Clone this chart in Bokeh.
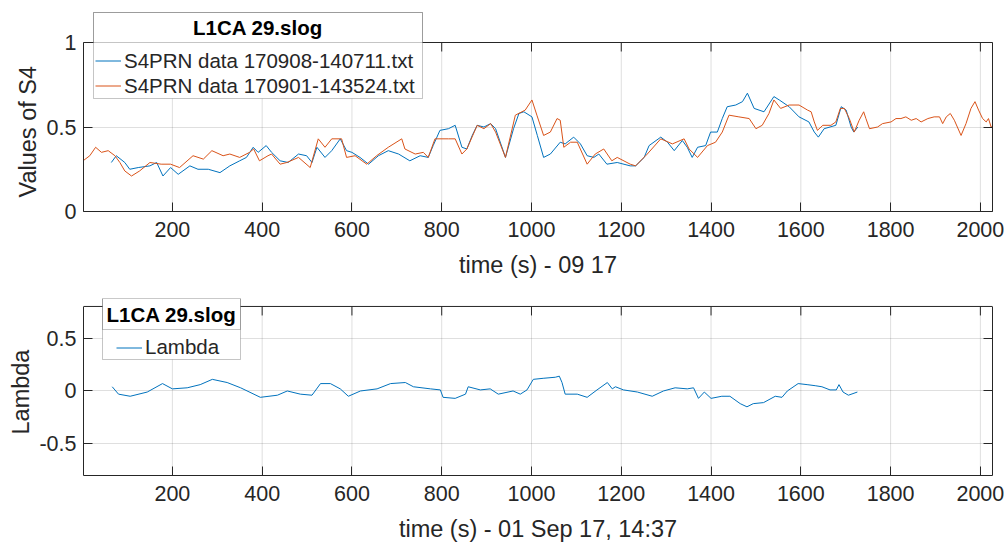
import math
from bokeh.plotting import figure
from bokeh.models import (Range1d, LinearAxis, FixedTicker, Legend, LegendItem,
                          CustomJSTickFormatter, Span, BoxAnnotation, Label, Title)
from bokeh.layouts import column
from bokeh.embed import file_html
from bokeh.resources import INLINE

FONT = "Liberation Sans"
INK = "#262626"
EDGE = "#404040"
BLUE = "#0072BD"
ORANGE = "#D95319"

# S4 index, pass of 08 Sep 2017 (170908-140711)
s4_0908_t = [64, 75, 94, 105, 124, 150, 165, 179, 196, 213, 239, 257, 280, 306, 328,
             350, 365, 380, 391, 409, 421, 440, 458, 481, 499, 511, 522, 540, 555, 574,
             588, 600, 618, 637, 659, 681, 704, 729, 752, 770, 781, 796, 815, 830, 845,
             856, 868, 879, 894, 909, 920, 942, 960, 972, 983, 1001, 1013, 1027, 1042,
             1064, 1075, 1094, 1109, 1124, 1139, 1150, 1168, 1191, 1220, 1232, 1251,
             1262, 1288, 1303, 1318, 1336, 1347, 1358, 1370, 1388, 1399, 1414, 1425,
             1436, 1455, 1470, 1481, 1496, 1518, 1540, 1552, 1574, 1596, 1618, 1630,
             1639, 1652, 1678, 1690, 1701, 1712, 1718, 1727]
s4_0908 = [0.29, 0.33, 0.29, 0.25, 0.26, 0.27, 0.29, 0.21, 0.26, 0.22, 0.27, 0.25, 0.25,
           0.23, 0.27, 0.30, 0.32, 0.38, 0.35, 0.39, 0.35, 0.30, 0.29, 0.34, 0.33, 0.29,
           0.38, 0.32, 0.36, 0.43, 0.36, 0.35, 0.32, 0.28, 0.33, 0.36, 0.34, 0.30, 0.33,
           0.32, 0.39, 0.48, 0.49, 0.51, 0.38, 0.37, 0.45, 0.51, 0.50, 0.52, 0.49, 0.32,
           0.49, 0.58, 0.59, 0.56, 0.45, 0.32, 0.34, 0.41, 0.40, 0.44, 0.40, 0.33, 0.32,
           0.34, 0.28, 0.29, 0.27, 0.27, 0.32, 0.39, 0.44, 0.41, 0.36, 0.42, 0.38, 0.32,
           0.38, 0.39, 0.47, 0.47, 0.55, 0.62, 0.63, 0.65, 0.70, 0.61, 0.59, 0.68, 0.66,
           0.62, 0.56, 0.53, 0.47, 0.44, 0.49, 0.51, 0.62, 0.60, 0.50, 0.47, 0.50]

# S4 index, pass of 01 Sep 2017 (170901-143524)
s4_0901_t = [1, 16, 29, 42, 57, 72, 83, 94, 109, 127, 150, 175, 196, 216, 246, 269, 288,
             313, 328, 350, 372, 381, 394, 413, 421, 440, 455, 481, 507, 525, 540, 555,
             577, 588, 607, 633, 655, 681, 711, 718, 741, 759, 770, 785, 815, 830, 845,
             856, 879, 894, 909, 920, 942, 964, 986, 1001, 1012, 1027, 1042, 1057, 1064,
             1072, 1087, 1102, 1124, 1142, 1161, 1179, 1191, 1220, 1232, 1258, 1288,
             1314, 1340, 1351, 1370, 1392, 1410, 1425, 1440, 1462, 1485, 1500, 1514,
             1529, 1540, 1555, 1574, 1596, 1615, 1623, 1630, 1637, 1649, 1667, 1678,
             1688, 1697, 1708, 1719, 1730, 1740, 1745, 1753, 1771, 1782, 1801, 1812,
             1823, 1834, 1846, 1857, 1868, 1883, 1897, 1909, 1916, 1924, 1933, 1942,
             1957, 1968, 1979, 1988, 1996, 2005, 2013, 2018, 2024, 2027]
s4_0901 = [0.30, 0.33, 0.38, 0.35, 0.36, 0.33, 0.29, 0.24, 0.21, 0.24, 0.29, 0.28, 0.28,
           0.26, 0.33, 0.31, 0.36, 0.33, 0.34, 0.32, 0.35, 0.37, 0.30, 0.33, 0.34, 0.28,
           0.29, 0.32, 0.26, 0.43, 0.38, 0.43, 0.43, 0.32, 0.33, 0.28, 0.33, 0.38, 0.43,
           0.37, 0.34, 0.35, 0.32, 0.43, 0.43, 0.43, 0.34, 0.37, 0.51, 0.49, 0.52, 0.47,
           0.32, 0.57, 0.60, 0.66, 0.57, 0.45, 0.47, 0.55, 0.54, 0.38, 0.41, 0.41, 0.28,
           0.34, 0.37, 0.30, 0.32, 0.28, 0.27, 0.34, 0.43, 0.40, 0.43, 0.37, 0.32, 0.39,
           0.41, 0.47, 0.57, 0.56, 0.55, 0.49, 0.51, 0.58, 0.66, 0.61, 0.63, 0.63, 0.60,
           0.59, 0.53, 0.48, 0.51, 0.51, 0.53, 0.61, 0.61, 0.55, 0.47, 0.54, 0.59, 0.55,
           0.49, 0.50, 0.52, 0.53, 0.55, 0.55, 0.56, 0.54, 0.55, 0.53, 0.55, 0.56, 0.56,
           0.52, 0.56, 0.58, 0.54, 0.45, 0.52, 0.61, 0.65, 0.60, 0.55, 0.53, 0.55, 0.50,
           0.50]

# Lambda
lambda_t = [66, 80, 106, 144, 178, 200, 233, 262, 289, 322, 352, 396, 434, 456, 485,
            511, 530, 552, 574, 592, 619, 656, 686, 719, 737, 775, 797, 803, 830, 853,
            859, 886, 908, 926, 959, 975, 990, 1004, 1026, 1053, 1062, 1068, 1075, 1102,
            1124, 1146, 1169, 1180, 1187, 1205, 1236, 1269, 1294, 1320, 1347, 1361, 1372,
            1385, 1400, 1424, 1442, 1465, 1480, 1494, 1517, 1543, 1558, 1570, 1594, 1614,
            1632, 1647, 1665, 1679, 1685, 1694, 1706, 1726]
lambda_v = [0.04, -0.03, -0.05, -0.01, 0.07, 0.02, 0.03, 0.06, 0.11, 0.08, 0.03, -0.06,
            -0.04, 0.00, -0.03, -0.04, 0.07, 0.07, 0.02, -0.05, 0.00, 0.02, 0.07, 0.08,
            0.04, 0.02, 0.01, -0.06, -0.07, -0.03, 0.04, 0.01, 0.02, -0.03, 0.00, -0.03,
            0.01, 0.11, 0.12, 0.13, 0.14, 0.08, -0.03, -0.03, -0.06, 0.01, 0.08, 0.02,
            0.04, 0.01, -0.01, -0.05, 0.00, 0.03, 0.02, 0.03, -0.07, -0.01, -0.07, -0.05,
            -0.05, -0.12, -0.15, -0.12, -0.11, -0.05, -0.06, 0.00, 0.07, 0.06, 0.05, 0.04,
            0.01, 0.01, 0.06, -0.01, -0.04, -0.01]

x_ticks = [200, 400, 600, 800, 1000, 1200, 1400, 1600, 1800, 2000]
x_limits = (2, 2027)
s4_ticks = [0, 0.5, 1]
s4_limits = (0, 1)
lambda_ticks = [-0.5, 0, 0.5]
lambda_limits = (-0.8, 0.8)

legend_title = "L1CA 29.slog"
s4_labels = ["S4PRN data 170908-140711.txt", "S4PRN data 170901-143524.txt"]
lambda_label = "Lambda"

TICK = 9          # inward tick length, px


def make_axes(height, frame_top, head, box_h, limits, y_ticks, xlabel, ylabel, ylabel_offset):
    """Axes box of box_h px with `head` px of free room above it (inside the
    frame) where the legend title box sits."""
    lo, hi = limits
    top = hi + head * (hi - lo) / box_h
    p = figure(width=1008, height=height, output_backend="svg", toolbar_location=None,
               x_range=Range1d(*x_limits), y_range=Range1d(lo, top),
               min_border_left=83, min_border_right=16,
               min_border_top=frame_top, min_border_bottom=height - frame_top - box_h - head,
               background_fill_color="white", border_fill_color="white")
    p.outline_line_color = None
    p.xaxis.ticker = FixedTicker(ticks=x_ticks)
    p.yaxis.ticker = FixedTicker(ticks=y_ticks)
    p.yaxis.bounds = limits
    p.yaxis.formatter = CustomJSTickFormatter(code="return String(tick);")
    p.xaxis.axis_label = xlabel
    for ax in p.axis:
        ax.axis_line_color = INK
        ax.major_tick_line_color = INK
        ax.major_tick_in = TICK
        ax.major_tick_out = 0
        ax.minor_tick_line_color = None
        ax.major_label_text_font = FONT
        ax.major_label_text_font_size = "21.5px"
        ax.major_label_text_color = INK
        ax.axis_label_text_font = FONT
        ax.axis_label_text_font_size = "23.5px"
        ax.axis_label_text_font_style = "normal"
        ax.axis_label_text_color = INK
    p.xaxis.major_label_standoff = 10
    p.xaxis.axis_label_standoff = 12
    p.yaxis.major_label_standoff = 7
    # y label centred on the axes box rather than on the taller frame
    p.add_layout(Title(text=ylabel, align="left", offset=ylabel_offset, standoff=6,
                       text_font=FONT, text_font_size="23.5px", text_font_style="normal",
                       text_color=INK), "left")
    # right-hand axis: tick marks only
    right = LinearAxis(ticker=FixedTicker(ticks=y_ticks), bounds=limits,
                       formatter=CustomJSTickFormatter(code="return '';"))
    right.axis_line_color = INK
    right.major_tick_line_color = INK
    right.major_tick_in = TICK
    right.major_tick_out = 0
    right.minor_tick_line_color = None
    right.major_label_standoff = 0
    right.major_label_text_font_size = "1px"
    p.add_layout(right, "right")
    # grid: horizontal lines from the grid model, vertical ones inside the box only
    p.xgrid.visible = False
    p.ygrid.ticker = FixedTicker(ticks=y_ticks)
    p.ygrid.grid_line_color = INK
    p.ygrid.grid_line_alpha = 0.15
    p.segment(x0=x_ticks, y0=[lo] * len(x_ticks), x1=x_ticks, y1=[hi] * len(x_ticks),
              line_color=INK, line_alpha=0.15, line_width=1)
    # top edge of the box and its inward ticks
    p.ray(x=x_ticks, y=[hi] * len(x_ticks), length=TICK, length_units="screen",
          angle=-math.pi / 2, line_color=INK, line_width=1)
    p.add_layout(Span(location=hi, dimension="width", line_color=INK, line_width=1))
    return p


def add_legend(p, items, left, box_w, title_h, entries_h, sep_y, entry_left, row_h):
    """Legend frame with a title cell above sep_y (px above frame bottom)."""
    scr = dict(left_units="screen", right_units="screen",
               bottom_units="screen", top_units="screen")
    p.add_layout(BoxAnnotation(left=left, right=left + box_w, bottom=sep_y - entries_h,
                               top=sep_y + title_h, fill_color="white", fill_alpha=1,
                               line_color=EDGE, line_width=1, **scr))
    p.add_layout(BoxAnnotation(left=left, right=left + box_w, bottom=sep_y,
                               top=sep_y + title_h, fill_alpha=0,
                               line_color=EDGE, line_width=1, **scr))
    p.add_layout(Label(x=left + box_w / 2, y=sep_y + title_h / 2, x_units="screen",
                       y_units="screen", text=legend_title, text_align="center",
                       text_baseline="middle", text_font=FONT, text_font_size="20.5px",
                       text_font_style="bold", text_color="black"))
    pad = 3
    n = len(items)
    lg = Legend(items=items, location=(entry_left - pad,
                                       sep_y - entries_h / 2 - (n * row_h) / 2 - pad))
    lg.label_text_font = FONT
    lg.label_text_font_size = "20.5px"
    lg.label_text_color = INK
    lg.label_text_line_height = 1.0
    lg.label_height = row_h
    lg.glyph_height = row_h
    lg.border_line_color = None
    lg.background_fill_alpha = 0
    lg.glyph_width = 26
    lg.label_standoff = 3
    lg.padding = pad
    lg.spacing = 0
    lg.margin = 0
    p.add_layout(lg)


p1 = make_axes(290, 11, 31, 169, s4_limits, s4_ticks, "time (s) - 09 17",
               "Values of S4", 14)
r_blue = p1.line(s4_0908_t, s4_0908, line_color=BLUE, line_width=1)
r_orange = p1.line(s4_0901_t, s4_0901, line_color=ORANGE, line_width=1)
add_legend(p1, [LegendItem(label=s4_labels[0], renderers=[r_blue]),
                LegendItem(label=s4_labels[1], renderers=[r_orange])],
           left=10, box_w=329, title_h=30, entries_h=56, sep_y=169, entry_left=15, row_h=25)

p2 = make_axes(254, 8, 8, 170, lambda_limits, lambda_ticks,
               "time (s) - 01 Sep 17, 14:37", "Lambda", 41)
r_lambda = p2.line(lambda_t, lambda_v, line_color=BLUE, line_width=1)
add_legend(p2, [LegendItem(label=lambda_label, renderers=[r_lambda])],
           left=19, box_w=138, title_h=31, entries_h=30, sep_y=146, entry_left=36, row_h=25)

layout = column(p1, p2, spacing=0)
open("out.html", "w").write(file_html(layout, INLINE))
